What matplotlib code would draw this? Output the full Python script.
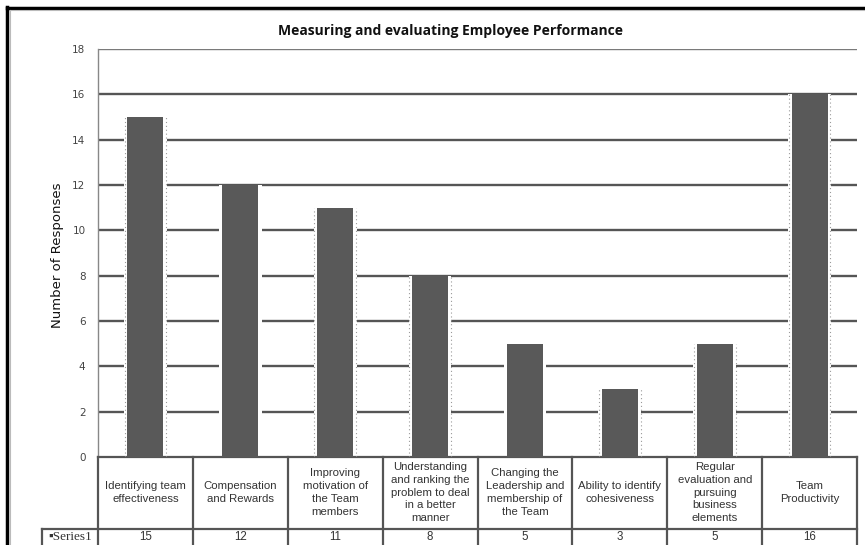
import matplotlib
matplotlib.use("Agg")
import matplotlib.pyplot as plt
from matplotlib.lines import Line2D
import matplotlib.transforms as mtransforms

title = "Measuring and evaluating Employee Performance"
ylabel = "Number of Responses"
series_name = "Series1"
categories = [
    "Identifying team\neffectiveness",
    "Compensation\nand Rewards",
    "Improving\nmotivation of\nthe Team\nmembers",
    "Understanding\nand ranking the\nproblem to deal\nin a better\nmanner",
    "Changing the\nLeadership and\nmembership of\nthe Team",
    "Ability to identify\ncohesiveness",
    "Regular\nevaluation and\npursuing\nbusiness\nelements",
    "Team\nProductivity",
]
values = [15, 12, 11, 8, 5, 3, 5, 16]
yticks = [0, 2, 4, 6, 8, 10, 12, 14, 16, 18]

W, H = 865, 545
fig = plt.figure(figsize=(W / 100, H / 100), dpi=100)
fig.patch.set_facecolor("white")

L, R, T, B = 98, 857, 49, 457
ax = fig.add_axes([L / W, 1 - B / H, (R - L) / W, (B - T) / H])
ax.set_xlim(-0.5, len(values) - 0.5)
ax.set_ylim(0, 18)

x = list(range(len(values)))
bar_w = 0.38
# gridlines
for t in yticks[1:-1]:
    ax.axhline(t, color="#555555", lw=1.7, zorder=1)
ax.axhline(18, color="#7a7a7a", lw=1.0, zorder=1)
# white halo to break gridlines around bars
ax.bar(x, values, width=bar_w + 0.07, color="white", zorder=2, linewidth=0)
ax.bar(x, values, width=bar_w, color="#595959", zorder=3, linewidth=0)
# dotted edge lines
dotted = [0, 2, 3, 5, 6, 7]
for i in dotted:
    for s in (-1, 1):
        ax.vlines(x[i] + s * (bar_w / 2 + 0.03), 0, values[i], colors="#9a9a9a",
                  linestyles=(0, (1, 2.5)), lw=0.8, zorder=3)

ax.set_yticks(yticks)
ax.set_yticklabels([str(t) for t in yticks], fontsize=7.5, color="#444444",
                   family="DejaVu Sans")
ax.tick_params(axis="y", length=0, pad=9)
ax.set_xticks([])
for s in ("top", "right"):
    ax.spines[s].set_visible(False)
ax.spines["left"].set_color("#888888")
ax.spines["left"].set_linewidth(1.0)
ax.spines["bottom"].set_color("#555555")
ax.spines["bottom"].set_linewidth(1.6)

# y label
fig.text(58 / W, 1 - 255 / H, ylabel, rotation=90, ha="center", va="center",
         fontsize=9.5, color="#111111", family="DejaVu Sans Condensed")

# title
fig.text(451 / W, 1 - 31 / H, title, ha="center", va="center", fontsize=10,
         fontweight="bold", color="#111111", family="Open Sans")

# data table below axes
ph = (B - T)
def ay(py):
    return -(py - B) / ph

blend = mtransforms.blended_transform_factory(ax.transData, ax.transAxes)
tcol = "#555555"
for i in range(len(values) + 1):
    ax.add_line(Line2D([i - 0.5, i - 0.5], [0, ay(H + 5)], transform=blend,
                       color=tcol, lw=1.6, clip_on=False))
sx = (42 - L) / (R - L)
ax.add_line(Line2D([sx, 1], [ay(529), ay(529)], transform=ax.transAxes,
                   color=tcol, lw=1.6, clip_on=False))
ax.add_line(Line2D([sx, sx], [ay(529), ay(H + 5)], transform=ax.transAxes,
                   color=tcol, lw=1.6, clip_on=False))
for i, (c, v) in enumerate(zip(categories, values)):
    ax.text(i, ay(492.5), c, transform=blend, ha="center", va="center",
            fontsize=8.2, color="#333333", family="Liberation Sans",
            linespacing=1.36, clip_on=False)
    ax.text(i, ay(537.5), str(v), transform=blend, ha="center", va="center",
            fontsize=8.3, color="#333333", family="Liberation Sans", clip_on=False)
ax.text((sx + 0) / 2, ay(537.5), "\u25aa" + series_name, transform=ax.transAxes,
        ha="center", va="center", fontsize=9.5, color="#333333",
        family=["Liberation Serif", "DejaVu Sans"], clip_on=False)

# outer frame
fig.add_artist(Line2D([7.5 / W, 7.5 / W], [0, 1 - 7 / H], transform=fig.transFigure,
                      color="black", lw=2.5))
fig.add_artist(Line2D([7.5 / W, 1], [1 - 7.5 / H, 1 - 7.5 / H], transform=fig.transFigure,
                      color="black", lw=2.5))
fig.add_artist(Line2D([10 / W, 10 / W], [0, 1 - 10 / H], transform=fig.transFigure,
                      color="#bbbbbb", lw=0.8))
fig.add_artist(Line2D([10 / W, 1], [1 - 10 / H, 1 - 10 / H], transform=fig.transFigure,
                      color="#bbbbbb", lw=0.8))

fig.savefig("out.png", dpi=100, facecolor="white")
